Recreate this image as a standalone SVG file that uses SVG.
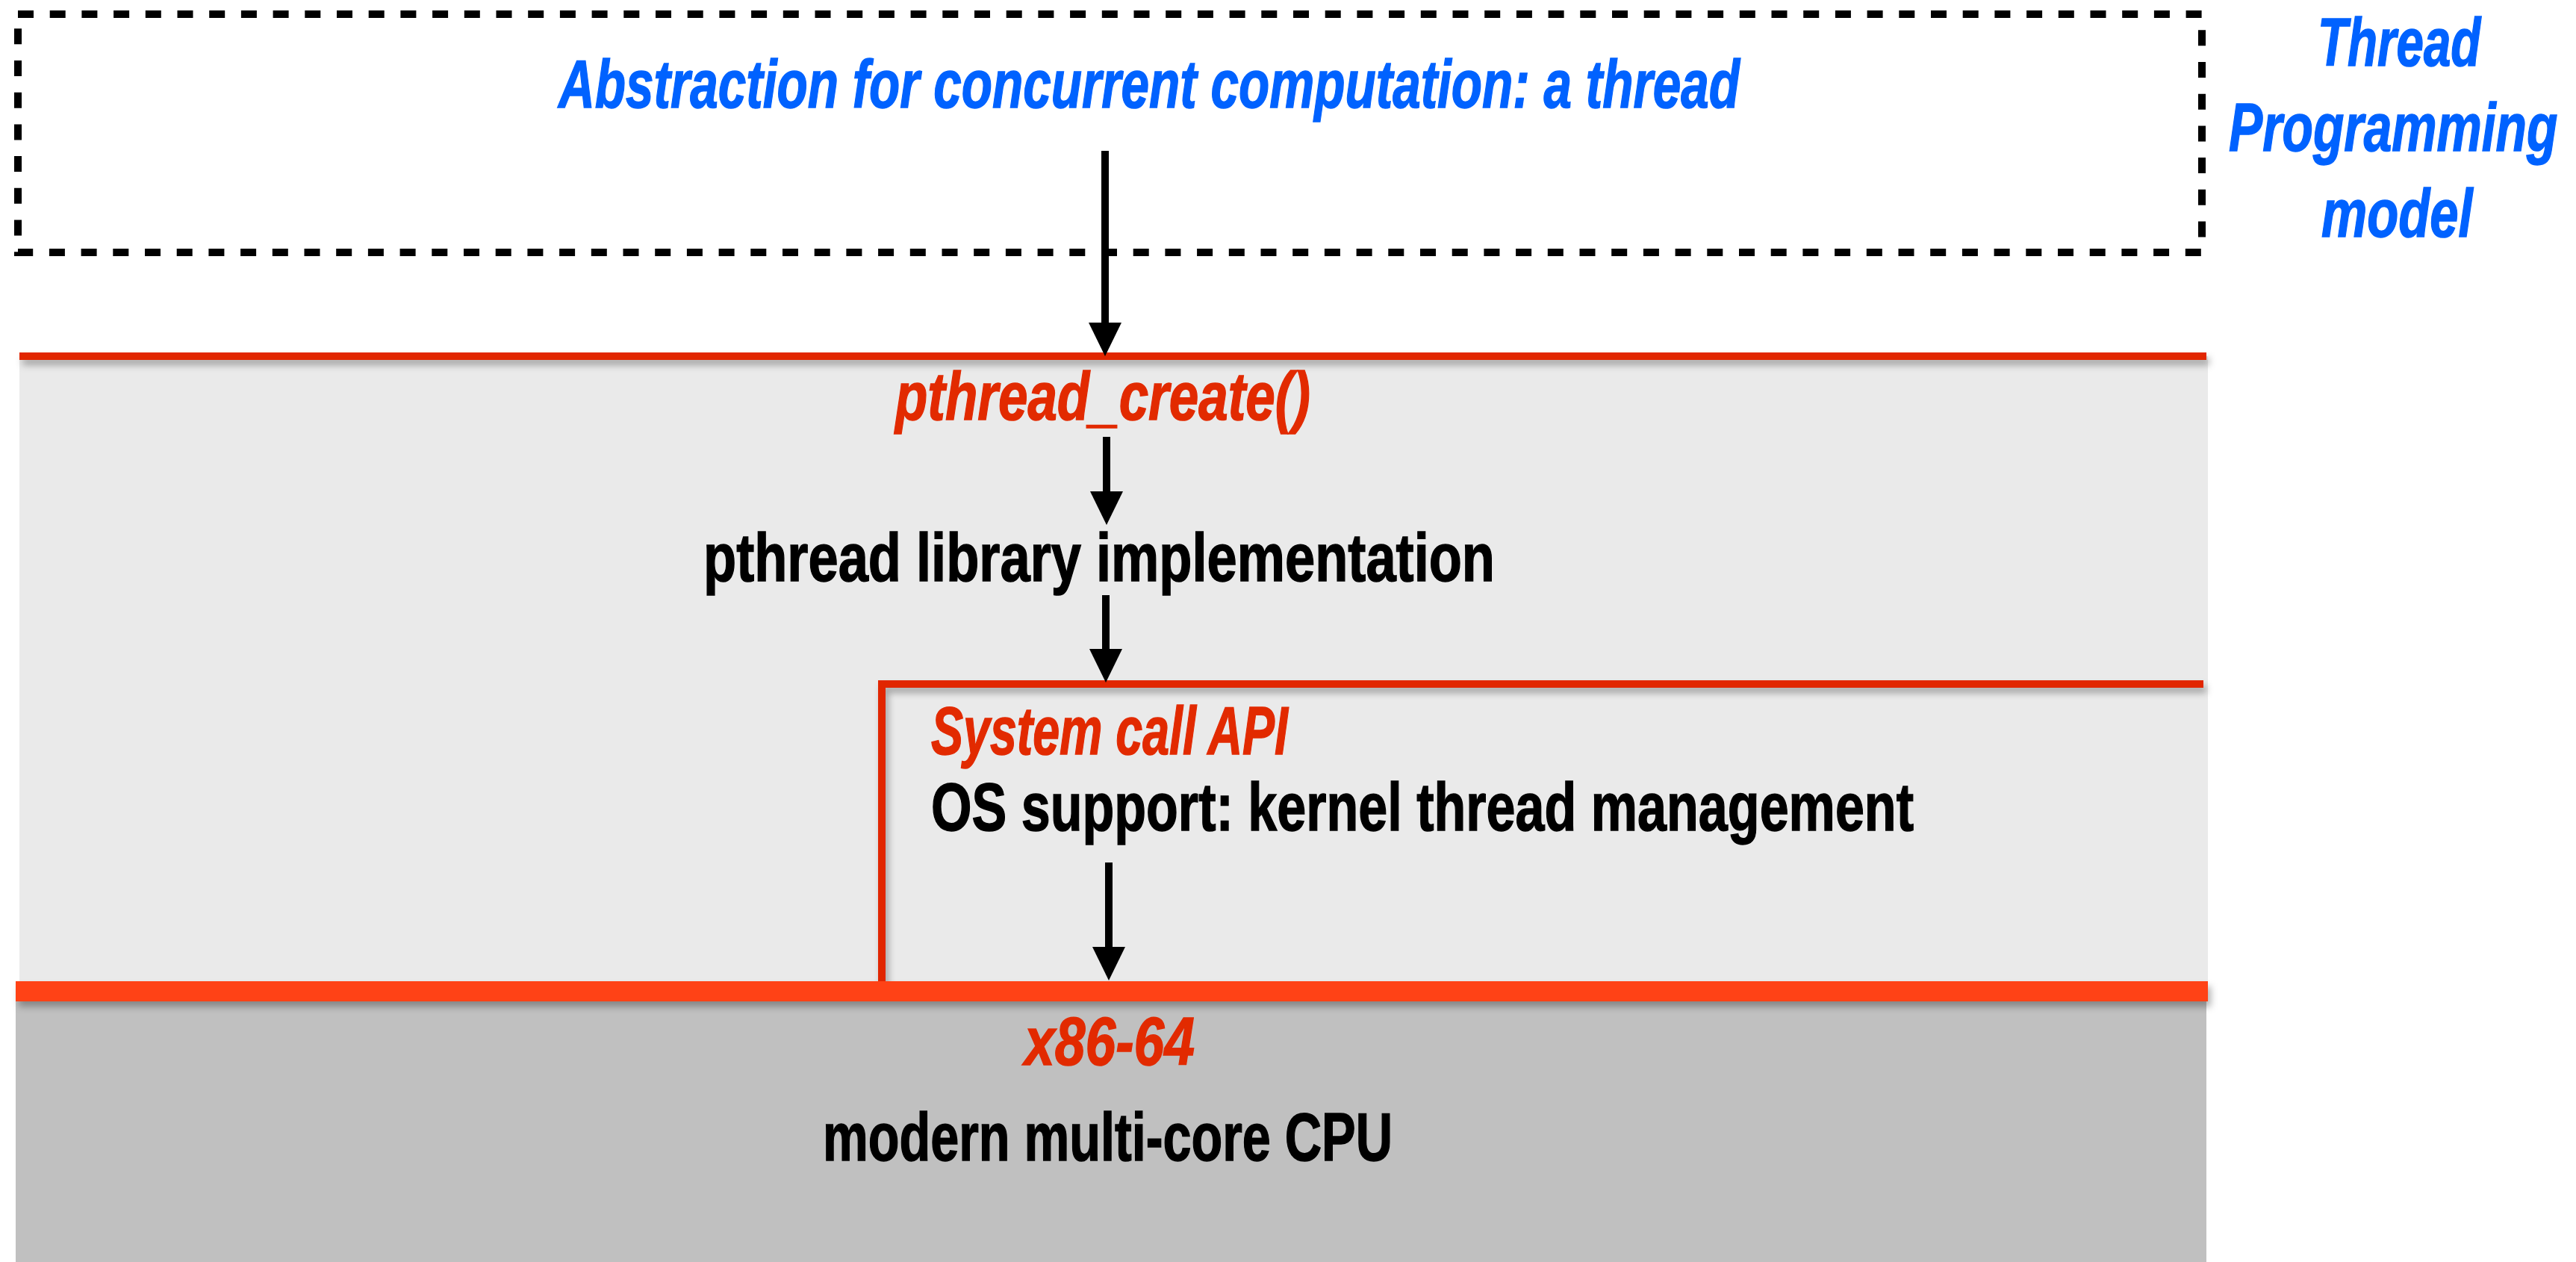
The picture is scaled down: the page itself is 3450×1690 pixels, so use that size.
<svg xmlns="http://www.w3.org/2000/svg" width="3450" height="1690" viewBox="0 0 3450 1690">
  <style>
    .t { font-family: "Liberation Sans", "Open Sans", Arial, sans-serif; font-weight: bold; font-size: 91px; stroke-width: 1.5px; }
    .it { font-style: italic; }
    .blue { fill: #0062FF; stroke: #0062FF; }
    .red { fill: #E22A00; stroke: #E22A00; }
    .black { fill: #000000; stroke: #000000; }
    .conn { stroke: #000000; stroke-width: 10; fill: none; }
    .redline { fill: #E12800; }
  </style>
  <defs>
    <marker id="arrow" viewBox="0 0 45 44" refX="3" refY="22" markerWidth="45" markerHeight="44" markerUnits="userSpaceOnUse" orient="auto">
      <path d="M0,0 L45,22 L0,44 Z" fill="#000000"/>
    </marker>
    <filter id="shadow" x="-5%" y="-100%" width="110%" height="400%">
      <feDropShadow dx="4" dy="7" stdDeviation="5" flood-color="#000000" flood-opacity="0.3"/>
    </filter>
  </defs>

  <rect x="0" y="0" width="3450" height="1690" fill="#FFFFFF"/>

  <!-- Thread programming model layer -->
  <g id="thread-model">
    <rect x="24" y="19" width="2925" height="319" fill="none" stroke="#000000" stroke-width="10" stroke-dasharray="21 21.7"/>
    <text class="t it blue" x="748" y="144" textLength="1582" lengthAdjust="spacingAndGlyphs">Abstraction for concurrent computation: a thread</text>
  </g>

  <g id="model-label">
    <text class="t it blue" transform="translate(3104,88) scale(0.74,1)" x="0" y="0" textLength="295" lengthAdjust="spacingAndGlyphs">Thread</text>
    <text class="t it blue" transform="translate(2985,202) scale(0.74,1)" x="0" y="0" textLength="595" lengthAdjust="spacingAndGlyphs">Programming</text>
    <text class="t it blue" transform="translate(3109,317) scale(0.74,1)" x="0" y="0" textLength="274" lengthAdjust="spacingAndGlyphs">model</text>
  </g>

  <!-- pthread library layer -->
  <g id="pthread-layer">
    <rect x="26" y="477" width="2931" height="840" fill="#EAEAEA"/>
    <rect class="redline" x="26" y="472" width="2929" height="10" filter="url(#shadow)"/>
    <text class="t it red" x="1199" y="562" textLength="556" lengthAdjust="spacingAndGlyphs">pthread_create()</text>
    <text class="t black" x="942" y="778" textLength="1060" lengthAdjust="spacingAndGlyphs">pthread library implementation</text>
  </g>

  <!-- OS support layer -->
  <g id="os-layer">
    <path d="M1181,1316 L1181,916 L2951,916" fill="none" stroke="#E12800" stroke-width="10" filter="url(#shadow)"/>
    <text class="t it red" x="1247" y="1010" textLength="478" lengthAdjust="spacingAndGlyphs">System call API</text>
    <text class="t black" x="1247" y="1112" textLength="1316" lengthAdjust="spacingAndGlyphs">OS support: kernel thread management</text>
  </g>

  <!-- CPU layer -->
  <g id="cpu-layer">
    <rect x="21" y="1338" width="2934" height="352" fill="#C0C0C0"/>
    <rect x="21" y="1314" width="2936" height="27" fill="#FF4216" filter="url(#shadow)"/>
    <text class="t it red" x="1372" y="1426" textLength="228" lengthAdjust="spacingAndGlyphs">x86-64</text>
    <text class="t black" x="1102" y="1554" textLength="763" lengthAdjust="spacingAndGlyphs">modern multi-core CPU</text>
  </g>

  <!-- connectors -->
  <g id="connectors">
    <line class="conn" x1="1480" y1="202" x2="1480" y2="435" marker-end="url(#arrow)"/>
    <line class="conn" x1="1482" y1="585" x2="1482" y2="661" marker-end="url(#arrow)"/>
    <line class="conn" x1="1481" y1="797" x2="1481" y2="872" marker-end="url(#arrow)"/>
    <line class="conn" x1="1485" y1="1155" x2="1485" y2="1271" marker-end="url(#arrow)"/>
  </g>
</svg>
